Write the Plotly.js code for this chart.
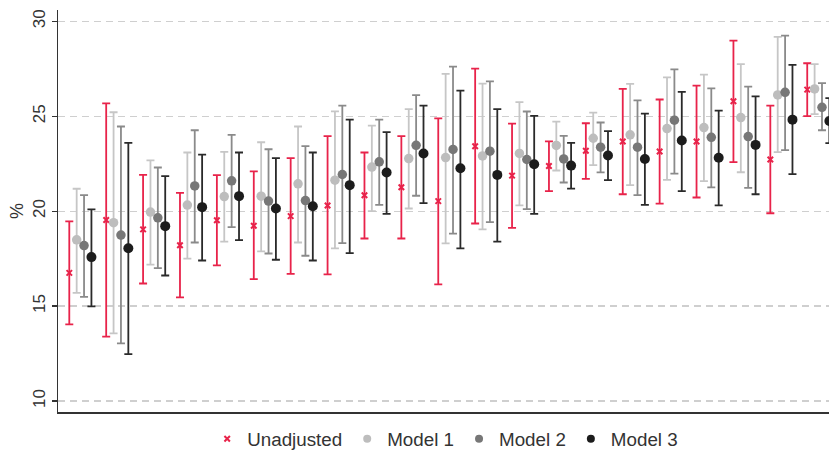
<!DOCTYPE html>
<html>
<head>
<meta charset="utf-8">
<script src="https://cdn.plot.ly/plotly-3.0.1.min.js"></script>
<style>html,body{margin:0;padding:0;background:#fff;}#chart{width:829px;height:450px;}</style>
</head>
<body>
<div id="chart"></div>
<script>
// Groups (no category labels are shown on the x axis)
const groups = [1, 2, 3, 4, 5, 6, 7, 8, 9, 10, 11, 12, 13, 14, 15, 16, 17, 18, 19, 20, 21];
const seriesNames = ["Unadjusted", "Model 1", "Model 2", "Model 3"];

// Unadjusted
const unadj   = [16.75, 19.53, 19.04, 18.20, 19.52, 19.23, 19.74, 20.30, 20.84, 21.26, 20.53, 23.42, 21.87, 22.38, 23.18, 23.67, 23.14, 23.67, 25.79, 22.72, 26.40];
const unadjLo = [14.04, 13.39, 16.19, 15.46, 17.14, 16.42, 16.70, 16.67, 18.56, 18.56, 16.14, 19.35, 19.12, 21.05, 21.70, 20.89, 20.40, 20.72, 22.58, 19.89, 25.00];
const unadjHi = [19.46, 25.68, 21.91, 20.96, 21.90, 22.09, 22.79, 23.95, 23.09, 23.95, 24.89, 27.51, 24.61, 23.68, 24.63, 26.44, 25.88, 26.61, 28.98, 25.56, 27.79];

// Model 1
const m1   = [18.49, 19.39, 19.95, 20.32, 20.77, 20.79, 21.44, 21.63, 22.32, 22.77, 22.82, 22.91, 23.04, 23.46, 23.84, 24.02, 24.35, 24.40, 24.93, 26.12, 26.44];
const m1Lo = [15.70, 13.56, 17.18, 17.50, 18.39, 17.88, 18.35, 18.04, 20.00, 20.14, 18.30, 19.04, 20.30, 22.14, 22.42, 21.37, 21.65, 21.58, 22.05, 23.11, 25.11];
const m1Hi = [21.18, 25.21, 22.67, 23.09, 23.12, 23.63, 24.46, 25.26, 24.51, 25.37, 27.23, 26.72, 25.74, 24.72, 25.19, 26.70, 27.05, 27.19, 27.74, 29.18, 27.74];

// Model 2
const m2   = [18.19, 18.74, 19.65, 21.33, 21.60, 20.53, 20.56, 21.93, 22.60, 23.47, 23.25, 23.16, 22.72, 22.75, 23.37, 23.37, 24.79, 23.89, 23.93, 26.26, 25.47];
const m2Lo = [15.49, 13.04, 17.00, 18.35, 19.16, 17.77, 17.65, 18.32, 20.33, 20.81, 18.82, 19.42, 20.11, 21.51, 22.04, 20.84, 21.98, 21.25, 21.23, 23.21, 24.26];
const m2Hi = [20.84, 24.46, 22.30, 24.26, 24.02, 23.26, 23.42, 25.56, 24.82, 26.11, 27.61, 26.84, 25.25, 23.96, 24.67, 25.84, 27.47, 26.47, 26.56, 29.25, 26.74];

// Model 3
const m3   = [17.58, 18.05, 19.21, 20.21, 20.79, 20.14, 20.26, 21.37, 22.04, 23.04, 22.26, 21.91, 22.47, 22.40, 22.93, 22.75, 23.72, 22.81, 23.49, 24.82, 24.75];
const m3Lo = [14.98, 12.47, 16.61, 17.40, 18.47, 17.44, 17.40, 17.79, 19.86, 20.42, 18.04, 18.39, 19.86, 21.19, 21.63, 20.33, 21.05, 20.30, 20.89, 21.95, 23.58];
const m3Hi = [20.09, 23.60, 21.84, 22.98, 23.09, 22.79, 23.09, 24.82, 24.16, 25.56, 26.35, 25.37, 25.02, 23.60, 24.21, 25.14, 26.28, 25.30, 26.05, 27.70, 25.95];

const yTicks = [10, 15, 20, 25, 30];

// ---- styling / construction ----
const styles = [
  {offset: -0.3, color: '#E8234A', bar: '#E8234A', symbol: 'x-thin', size: 5.5, legSize: 5.5, lw: 2},
  {offset: -0.1, color: '#BDBDBD', bar: '#C6C6C6', symbol: 'circle', size: 9.5, legSize: 8, lw: 0},
  {offset:  0.1, color: '#777777', bar: '#8A8A8A', symbol: 'circle', size: 9.5, legSize: 8, lw: 0},
  {offset:  0.3, color: '#1C1C1C', bar: '#2A2A2A', symbol: 'circle', size: 10, legSize: 8, lw: 0}
];
const pts = [unadj, m1, m2, m3];
const los = [unadjLo, m1Lo, m2Lo, m3Lo];
const his = [unadjHi, m1Hi, m2Hi, m3Hi];

const traces = [];
pts.forEach((p, k) => {
  const s = styles[k];
  traces.push({
    type: 'scatter', mode: 'markers', name: seriesNames[k], showlegend: false,
    x: groups.map(g => g + s.offset), y: p,
    marker: {symbol: s.symbol, size: s.size, color: s.color, line: {width: s.lw, color: s.color}},
    error_y: {type: 'data', symmetric: false,
      array: p.map((v, i) => his[k][i] - v),
      arrayminus: p.map((v, i) => v - los[k][i]),
      color: s.bar, thickness: 1.8, width: 4},
    hoverinfo: 'x+y'
  });
});
// legend entries
pts.forEach((p, k) => {
  const s = styles[k];
  traces.push({
    type: 'scatter', mode: 'markers', name: seriesNames[k], showlegend: true,
    x: [null], y: [null],
    marker: {symbol: s.symbol, size: s.legSize, color: s.color, line: {width: s.lw, color: s.color}}
  });
});

const layout = {
  width: 829, height: 450,
  margin: {l: 58, r: 0, t: 10, b: 38},
  paper_bgcolor: '#fff', plot_bgcolor: '#fff',
  font: {family: 'Liberation Sans, Arial, sans-serif', color: '#333', size: 17},
  showlegend: true,
  legend: {orientation: 'h', x: 0.537, xref: 'container', xanchor: 'center',
    y: 0.0244, yref: 'container', yanchor: 'middle',
    font: {size: 18.8, color: '#333'}, itemwidth: 30, tracegroupgap: 0},
  xaxis: {range: [0.394, 21.29], showgrid: false, zeroline: false, showticklabels: false,
    ticks: '', showline: true, linecolor: '#333', linewidth: 1.5, fixedrange: true},
  yaxis: {range: [9.421, 30.595], tickvals: yTicks, ticktext: yTicks.map(String),
    tickangle: -90, ticks: 'outside', ticklen: 5, tickcolor: '#333', tickwidth: 1.2,
    showline: true, linecolor: '#333', linewidth: 1.5, zeroline: false,
    showgrid: true, gridcolor: '#CFCFCF', gridwidth: 1.3, griddash: '7px,5px',
    tickfont: {size: 17, color: '#333'},
    title: {text: '%', font: {size: 18, color: '#333'}, standoff: 1}, fixedrange: true}
};

Plotly.newPlot('chart', traces, layout, {displayModeBar: false, staticPlot: true});
</script>
</body>
</html>
